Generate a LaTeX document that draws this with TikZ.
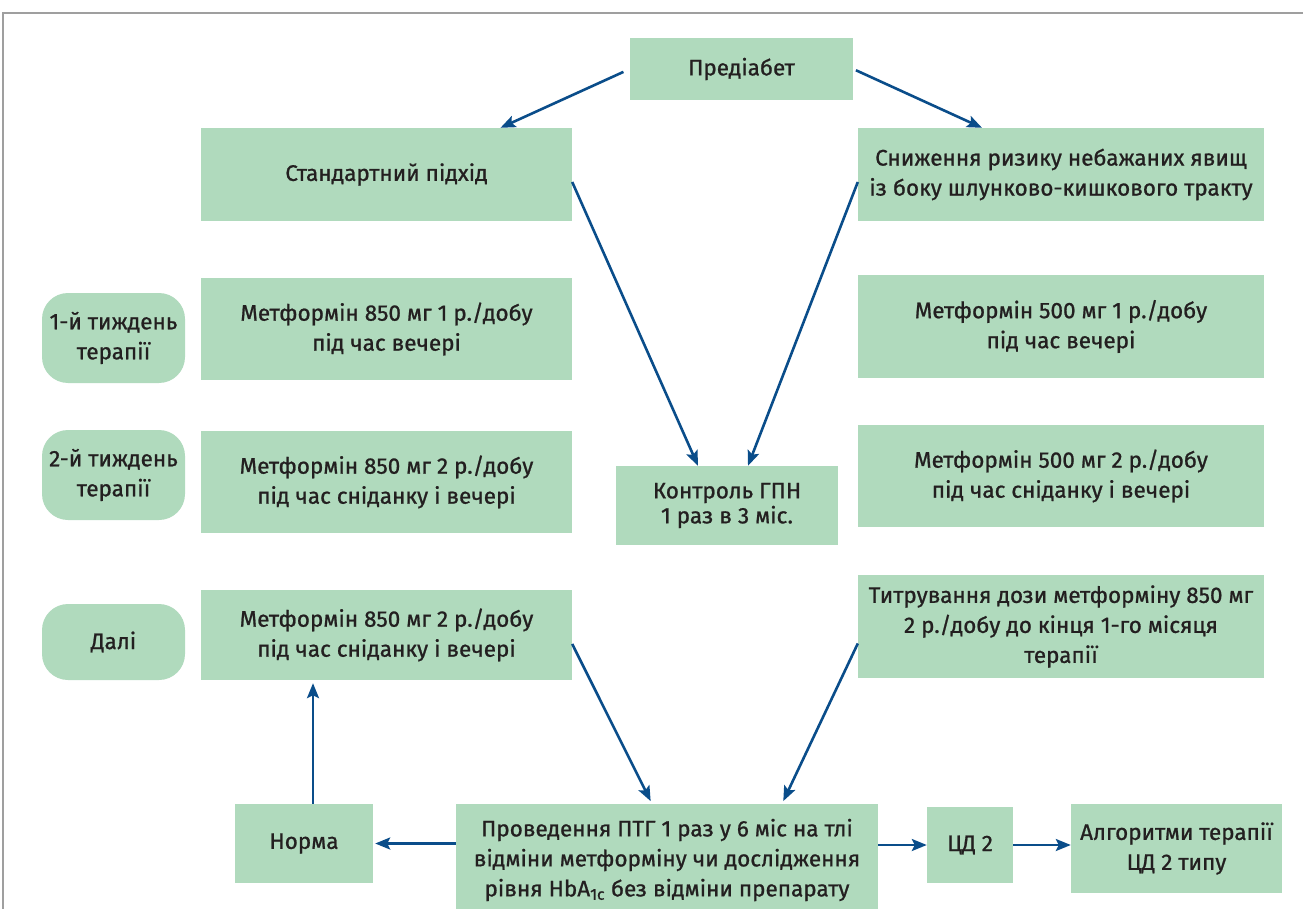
\documentclass[tikz,border=0pt]{standalone}
\usepackage{fontspec}
\setmainfont{Fira Sans}
\newfontfamily\boxfont{Fira Sans}[FakeBold=0.9]
\usetikzlibrary{arrows.meta}
\definecolor{boxgreen}{RGB}{176,218,189}
\definecolor{arrowblue}{RGB}{10,77,138}
\definecolor{textdark}{RGB}{35,31,32}

\begin{document}
\begin{tikzpicture}[x=1pt,y=-1pt,
	box/.style={rectangle,fill=boxgreen,text=textdark,align=center,inner sep=0pt,font=\boxfont\fontsize{22.5}{30}\selectfont},
	weekbox/.style={box,rounded corners=26pt,minimum width=143pt},
	flow/.style={arrowblue,line width=2.6pt,-{Stealth[length=15pt,width=12pt,inset=3pt]}}]
	\useasboundingbox (0,0) rectangle (1303,909);
	\draw[gray!75,line width=1.2pt] (3,909) -- (3,13) -- (1303,13);
	\path (741.5,69) node(predia)[box,minimum width=223pt,minimum height=62pt]{Предіабет}
	(386.5,174.5) node(std)[box,minimum width=371pt,minimum height=93pt]{Стандартний підхід}
	(1061,174.5) node(sne)[box,minimum width=406pt,minimum height=93pt]{Сниження ризику небажаних явищ\\із боку шлунково-кишкового тракту}
	(113.5,338) node(w1)[weekbox,minimum height=90pt]{1-й тиждень\\терапії}
	(386.5,329) node(m1)[box,minimum width=371pt,minimum height=102pt]{Метформін 850 мг 1 р./добу\\під час вечері}
	(1061,326.5) node(r1)[box,minimum width=406pt,minimum height=103pt]{Метформін 500 мг 1 р./добу\\під час вечері}
	(113.5,475) node(w2)[weekbox,minimum height=90pt]{2-й тиждень\\терапії}
	(386.5,482) node(m2)[box,minimum width=371pt,minimum height=102pt]{Метформін 850 мг 2 р./добу\\під час сніданку і вечері}
	(727,505.5) node(ctrl)[box,minimum width=222pt,minimum height=79pt,font=\boxfont\fontsize{22.5}{25}\selectfont]{Контроль ГПН\\1 раз в 3 міс.}
	(1061,476) node(r2)[box,minimum width=406pt,minimum height=102pt]{Метформін 500 мг 2 р./добу\\під час сніданку і вечері}
	(113.5,642) node(w3)[weekbox,minimum height=76pt]{Далі}
	(386.5,635) node(m3)[box,minimum width=371pt,minimum height=90pt]{Метформін 850 мг 2 р./добу\\під час сніданку і вечері}
	(1061,626.5) node(tit)[box,minimum width=406pt,minimum height=103pt]{Титрування дози метформіну 850 мг\\2 р./добу до кінця 1-го місяця\\терапії}
	(304,843.5) node(norma)[box,minimum width=138pt,minimum height=79pt]{Норма}
	(667,860) node(ptg)[box,minimum width=422pt,minimum height=112pt]{Проведення ПТГ 1 раз у 6 міс на тлі\\відміни метформіну чи дослідження\\рівня HbA\textsubscript{1c} без відміни препарату}
	(970,845) node(cd2)[box,minimum width=86pt,minimum height=76pt]{ЦД 2}
	(1176.5,848.5) node(alg)[box,minimum width=211pt,minimum height=89pt]{Алгоритми терапії\\ЦД 2 типу};
	\draw[flow,shorten <=7pt](predia.west)--([xshift=114pt]std.north);
	\draw[flow,shorten <=3pt](predia.east)--([xshift=-79pt]sne.north);
	\draw[flow]([yshift=-7.5pt]std.east)--([xshift=-29pt]ctrl.north);
	\draw[flow]([yshift=-7.5pt]sne.west)--([xshift=21pt]ctrl.north);
	\draw[flow,shorten >=3pt]([yshift=-9pt]m3.east)--([xshift=-15pt]ptg.north);
	\draw[flow,shorten >=3pt]([yshift=-17pt]tit.west)--([xshift=115pt]ptg.north);
	\draw[flow,shorten >=2pt](ptg.west |- norma.east)--(norma.east);
	\draw[flow,shorten >=3pt]([xshift=9pt]norma.north)--([xshift=9pt]norma.north |- m3.south);
	\draw[flow](ptg.east |- cd2.west)--(cd2.west);
	\draw[flow](cd2.east)--(alg.west |- cd2.east);
\end{tikzpicture}
\end{document}
